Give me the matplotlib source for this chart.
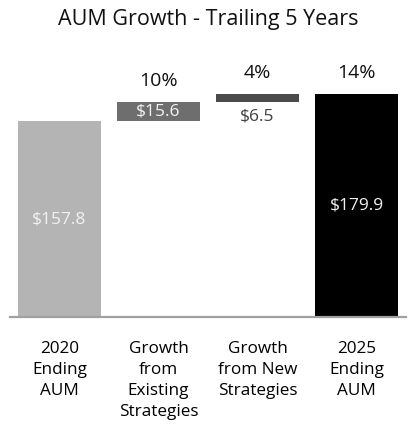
import matplotlib
matplotlib.use("Agg")
import matplotlib.pyplot as plt

categories = ["2020\nEnding\nAUM", "Growth\nfrom\nExisting\nStrategies", "Growth\nfrom New\nStrategies", "2025\nEnding\nAUM"]
values = [157.8, 15.6, 6.5, 179.9]
value_labels = ["$157.8", "$15.6", "$6.5", "$179.9"]
pct_labels = ["", "10%", "4%", "14%"]
kinds = ["total", "delta", "delta", "total"]

colors = ["#b4b4b4", "#6e6e6e", "#4b4b4b", "#000000"]
label_colors = ["#f2f2f2", "#f2f2f2", "#404040", "#f2f2f2"]

plt.rcParams['font.family'] = ['Open Sans', 'DejaVu Sans']

W, H = 416, 430
fig = plt.figure(figsize=(W / 100, H / 100), dpi=100)
# axes: x from 10 to 406 px, y baseline at 317 px, top at 60 px
ax_left, ax_right = 10, 406
ax_bottom, ax_top = 317, 60
ax = fig.add_axes([ax_left / W, 1 - ax_bottom / H, (ax_right - ax_left) / W, (ax_bottom - ax_top) / H])

px_per_unit = (317 - 94) / 179.9
ymax = (ax_bottom - ax_top) / px_per_unit
ax.set_xlim(-0.5, 3.5)
ax.set_ylim(0, ymax)

bottoms = []
running = 0.0
for v, k in zip(values, kinds):
    if k == "total":
        bottoms.append(0.0)
        running = v
    else:
        bottoms.append(running)
        running += v

xs = list(range(len(values)))
ax.bar(xs, values, bottom=bottoms, width=0.84, color=colors, linewidth=0)

for i, (v, b) in enumerate(zip(values, bottoms)):
    if kinds[i] == "total" or i == 1:
        y = b + v / 2
    else:
        y = b - 14 / px_per_unit
    ax.text(i, y, value_labels[i], ha="center", va="center", color=label_colors[i], fontsize=12.5)
    if pct_labels[i]:
        ax.text(i, b + v + 21 / px_per_unit, pct_labels[i], ha="center", va="center", color="#111111", fontsize=14)

for s in ["top", "right", "left"]:
    ax.spines[s].set_visible(False)
ax.spines["bottom"].set_color("#a0a0a0")
ax.spines["bottom"].set_linewidth(1.6)
ax.set_yticks([])
ax.set_xticks(xs)
ax.set_xticklabels(categories, fontsize=12.3, linespacing=1.42, va="top")
ax.tick_params(axis="x", length=0, pad=17)

fig.text(0.5, 1 - 19 / H, "AUM Growth - Trailing 5 Years", ha="center", va="center", fontsize=15.5, color="#111111")

fig.savefig("out.png", dpi=100)
